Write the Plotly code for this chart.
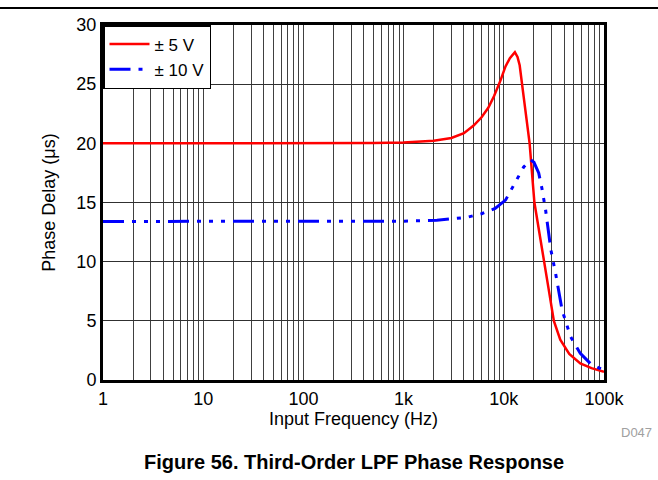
import plotly.graph_objects as go

# ±5 V series (frequency in Hz, phase delay in µs)
freq_5v = [1, 10, 100, 500, 1000, 1500, 2000, 3000, 4000, 5000, 6000, 7000, 8000,
           9250, 10400, 11500, 12900, 13700, 14400, 15800, 18100, 20200, 22300,
           25000, 28000, 31600, 36600, 45000, 58000, 75000, 100000]
delay_5v = [20.0, 20.0, 20.0, 20.02, 20.07, 20.14, 20.22, 20.45, 20.85, 21.5, 22.2,
            23.0, 24.0, 25.3, 26.5, 27.2, 27.7, 27.3, 26.6, 23.9, 20.0, 15.0, 12.7,
            10.0, 7.7, 5.0, 3.4, 2.2, 1.4, 1.0, 0.7]

# ±10 V series
freq_10v = [1, 10, 100, 1000, 2150, 3000, 4300, 6000, 8200, 10400, 13400, 15800,
            18500, 20000, 22300, 24000, 26100, 28100, 29500, 32900, 38200, 46400,
            58000, 73000, 100000]
delay_10v = [13.4, 13.4, 13.4, 13.42, 13.5, 13.6, 13.75, 14.05, 14.5, 15.2, 16.9,
             18.0, 18.6, 18.4, 17.5, 16.2, 14.4, 12.6, 11.0, 9.0, 5.9, 3.66, 2.25,
             1.4, 0.8]

series_names = ["± 5 V", "± 10 V"]
decade_vals = [1, 10, 100, 1000, 10000, 100000]
decade_labels = ["1", "10", "100", "1k", "10k", "100k"]
y_ticks = [0, 5, 10, 15, 20, 25, 30]

grid_vals = []
grid_text = []
for d in decade_vals[:-1]:
    for m in range(1, 10):
        grid_vals.append(d * m)
        grid_text.append(decade_labels[decade_vals.index(d)] if m == 1 else "")
grid_vals.append(decade_vals[-1])
grid_text.append(decade_labels[-1])

FONT = "Liberation Sans, Arial, sans-serif"

fig = go.Figure()
fig.add_trace(go.Scatter(x=freq_5v, y=delay_5v, mode="lines", name=series_names[0],
                         line=dict(color="#ff0000", width=2.5)))
fig.add_trace(go.Scatter(x=freq_10v, y=delay_10v, mode="lines", name=series_names[1],
                         line=dict(color="#0000ff", width=3,
                                   dash="21px,8px,4px,8px,4px,8px,4px,8px")))

fig.update_layout(
    width=658, height=480,
    margin=dict(l=103, r=54, t=25, b=100),
    paper_bgcolor="white", plot_bgcolor="white",
    font=dict(family=FONT, size=18, color="black"),
    showlegend=True,
    legend=dict(x=0, y=1, xanchor="left", yanchor="top",
                bgcolor="white", bordercolor="black", borderwidth=1.5,
                font=dict(size=17, family=FONT), tracegroupgap=0,
                itemwidth=40),
    xaxis=dict(type="log", range=[0, 5], tickmode="array",
               tickvals=grid_vals, ticktext=grid_text,
               showgrid=True, gridcolor="#404040", gridwidth=1,
               showline=True, linecolor="black", linewidth=3, mirror=True,
               ticks="", zeroline=False, automargin=False,
               tickfont=dict(size=18, family=FONT)),
    yaxis=dict(range=[0, 30], tickmode="array", tickvals=y_ticks,
               showgrid=True, gridcolor="#303030", gridwidth=1,
               showline=True, linecolor="black", linewidth=3, mirror=True,
               ticks="", zeroline=False, automargin=False,
               title=dict(text="Phase Delay (μs)", standoff=17,
                          font=dict(size=18, family=FONT)),
               tickfont=dict(size=18, family=FONT)),
)

fig.add_shape(type="line", xref="paper", yref="paper",
              x0=-0.21, x1=1.11, y0=1.048, y1=1.048,
              line=dict(color="black", width=2))

fig.add_annotation(text="Input Frequency (Hz)", xref="paper", yref="paper",
                   x=0.5, y=-0.11, xanchor="center", yanchor="middle",
                   showarrow=False, font=dict(size=18, color="black", family=FONT))
fig.add_annotation(text="D047", xref="paper", yref="paper",
                   x=1.064, y=-0.149, xanchor="center", yanchor="middle",
                   showarrow=False,
                   font=dict(size=13, color="#a0a0a0", family=FONT))
fig.add_annotation(text="<b>Figure 56. Third-Order LPF Phase Response</b>",
                   xref="paper", yref="paper", x=0.5, y=-0.23,
                   xanchor="center", yanchor="middle", showarrow=False,
                   font=dict(size=20, color="black", family=FONT))

fig.write_html("out.html", config={"displayModeBar": False},
               post_script="document.body.style.margin='0';")
